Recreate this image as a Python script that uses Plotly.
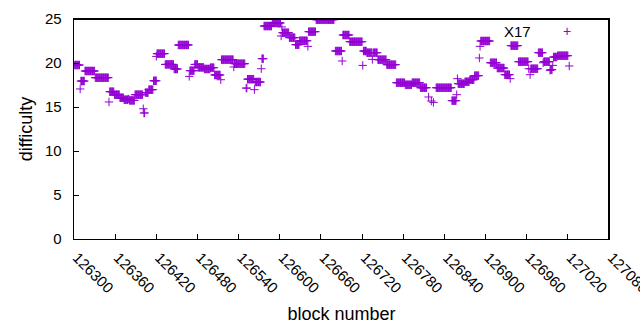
import plotly.graph_objects as go

# difficulty runs: (first block, last block, difficulty)
run_start = [126301,126309,126310,126316,126331,126351,126352,126359,126367,126373,126379,126381,126389,126401,126402,126404,126409,126416,126420,126421,
             126433,126446,126452,126468,126469,126476,126481,126490,126499,126505,126514,126515,126533,126534,126551,126553,126563,126564,126573,126574,
             126577,126589,126602,126603,126604,126614,126623,126629,126641,126642,126653,126681,126691,126692,126702,126721,126722,126727,126735,126736,
             126743,126756,126770,126783,126793,126805,126817,126821,126824,126828,126851,126858,126859,126860,126870,126877,126884,126891,126892,126893,
             126907,126917,126928,126936,126937,126948,126963,126965,126966,126977,126984,126985,126994,126995,126998,126999,127005,127022]
run_end   = [126308,126309,126315,126330,126350,126351,126358,126366,126372,126378,126380,126388,126400,126401,126403,126408,126415,126420,126420,126432,
             126445,126451,126467,126468,126475,126480,126489,126498,126504,126513,126514,126532,126533,126549,126552,126562,126563,126572,126573,126576,
             126588,126601,126602,126603,126613,126622,126628,126640,126641,126652,126679,126690,126691,126701,126720,126721,126726,126734,126735,126742,
             126755,126769,126782,126792,126804,126814,126817,126821,126824,126850,126857,126858,126859,126869,126876,126883,126890,126891,126892,126906,
             126916,126927,126935,126936,126947,126962,126963,126965,126976,126983,126984,126993,126994,126997,126998,127004,127020,127022]
run_value = [19.77,17.05,17.95,19.09,18.33,15.57,16.74,16.40,16.05,15.83,15.9,15.75,16.4,14.8,14.32,16.63,16.97,17.98,20.75,21.06,
             19.84,19.32,22.05,18.48,19.13,19.84,19.5,19.32,19.47,18.64,18.1,20.38,19.55,19.92,17.15,18.16,16.97,17.84,19.35,20.49,
             24.2,24.55,23.07,24.1,23.44,22.88,22.08,22.53,21.89,23.56,24.92,21.36,20.23,23.18,22.42,19.73,21.36,21.17,20.41,21.17,
             20.38,19.81,17.76,17.53,17.76,17.19,16.14,15.68,15.52,17.19,15.72,16.4,18.22,17.65,17.87,18.1,18.56,20.57,21.89,22.5,
             20.03,19.43,18.67,18.22,21.97,20.15,19.35,18.67,19.35,21.17,20.03,20.15,19.16,19.24,19.73,20.68,20.83,19.66]

x_ticks = list(range(126300, 127081, 60))
y_ticks = [0, 5, 10, 15, 20, 25]
x_range = [126300, 127080]
y_range = [0, 25]
series_name = "X17"

blocks, diffs = [], []
for s, e, v in zip(run_start, run_end, run_value):
    for b in range(s, e + 1):
        blocks.append(b)
        diffs.append(v)

color = "#9400d3"
fig = go.Figure()
fig.add_trace(go.Scatter(
    x=blocks, y=diffs, mode="markers", name=series_name, showlegend=False, hoverinfo="skip",
    marker=dict(symbol="cross-thin", size=6, color=color, line=dict(color=color, width=1)),
))
# plot frame along the axis ranges (top and right edges)
fig.add_trace(go.Scatter(
    x=[x_range[0], x_range[1], x_range[1]], y=[y_range[1], y_range[1], y_range[0]],
    mode="lines", line=dict(color="black", width=2), showlegend=False, hoverinfo="skip",
))

font = dict(family="Liberation Sans, Arial, sans-serif", size=15, color="black")
common = dict(ticks="inside", ticklen=5, tickcolor="black", showline=True, linecolor="black",
              mirror=True, showgrid=False, zeroline=False, automargin=False)
fig.update_layout(
    width=640, height=330,
    margin=dict(l=74, r=31, t=19, b=91, autoexpand=False),
    paper_bgcolor="white", plot_bgcolor="white",
    font=font,
    xaxis=dict(range=x_range, tickvals=x_ticks, ticktext=["\u00a0" + str(t) for t in x_ticks],
               tickangle=45, ticklabeloverflow="allow",
               title=dict(text="block number", standoff=12), **common),
    yaxis=dict(range=y_range, tickvals=y_ticks, ticktext=[str(t) + "\u00a0\u00a0" for t in y_ticks],
               title=dict(text="difficulty", standoff=7), **common),
    annotations=[dict(text=series_name, xref="paper", yref="paper", x=0.858, y=0.941,
                      xanchor="right", yanchor="middle", showarrow=False, font=font),
                 dict(text="+", xref="paper", yref="paper", x=0.9215, y=0.945,
                      xanchor="center", yanchor="middle", showarrow=False,
                      font=dict(family="Liberation Sans, Arial, sans-serif", size=14, color=color))],
)

fig.write_html("out.html", config={"displayModeBar": False},
               post_script="document.body.style.margin='0';document.body.style.overflow='hidden';")
